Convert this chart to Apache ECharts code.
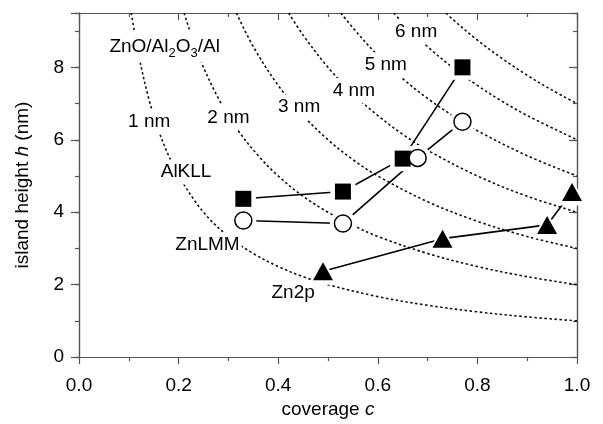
<!DOCTYPE html>
<html>
<head>
<meta charset="utf-8">
<script src="https://cdn.jsdelivr.net/npm/echarts@6/dist/echarts.min.js"></script>
<style>html,body{margin:0;padding:0;background:#fff}#c{width:603px;height:424px}</style>
</head>
<body>
<div id="c"></div>
<script>
// ---- data ----
const squaresC = [0.33, 0.53, 0.65, 0.77];
const squaresH = [4.37, 4.57, 5.48, 8.0];
const circlesC = [0.33, 0.53, 0.68, 0.77];
const circlesH = [3.77, 3.69, 5.5, 6.5];
const trianglesC = [0.49, 0.73, 0.94, 0.99];
const trianglesH = [2.37, 3.27, 3.65, 4.56];

// iso-thickness dotted curves (c, h) points
const curve1nm = [[0.105,9.5],[0.12,8.33],[0.14,7.14],[0.16,6.25],[0.18,5.56],[0.2,5.0],[0.25,4.0],[0.3,3.33],[0.35,2.86],[0.4,2.5],[0.45,2.22],[0.5,2.0],[0.6,1.67],[0.7,1.43],[0.8,1.25],[0.9,1.11],[1.0,1.0]];
const curve2nm = [[0.211,9.5],[0.24,8.33],[0.28,7.14],[0.32,6.25],[0.36,5.56],[0.4,5.0],[0.45,4.44],[0.5,4.0],[0.55,3.64],[0.6,3.33],[0.7,2.86],[0.8,2.5],[0.9,2.22],[1.0,2.0]];
const curve3nm = [[0.316,9.5],[0.35,8.57],[0.4,7.5],[0.45,6.67],[0.5,6.0],[0.55,5.45],[0.6,5.0],[0.7,4.29],[0.8,3.75],[0.9,3.33],[1.0,3.0]];
const curve4nm = [[0.421,9.5],[0.45,8.89],[0.5,8.0],[0.55,7.27],[0.6,6.67],[0.65,6.15],[0.7,5.71],[0.8,5.0],[0.9,4.44],[1.0,4.0]];
const curve5nm = [[0.526,9.5],[0.55,9.09],[0.6,8.33],[0.65,7.69],[0.7,7.14],[0.75,6.67],[0.8,6.25],[0.9,5.56],[1.0,5.0]];
const curve6nm = [[0.632,9.5],[0.65,9.23],[0.7,8.57],[0.75,8.0],[0.8,7.5],[0.85,7.06],[0.9,6.67],[1.0,6.0]];
const curve7nm = [[0.737,9.5],[0.75,9.33],[0.8,8.75],[0.85,8.24],[0.9,7.78],[0.95,7.37],[1.0,7.0]];
const curves = [curve1nm, curve2nm, curve3nm, curve4nm, curve5nm, curve6nm, curve7nm];

// annotation texts and their anchor points (c, h)
const annotTexts = ['ZnO/Al{sub|2}O{sub|3}/Al', '1 nm', '2 nm', '3 nm', '4 nm', '5 nm', '6 nm', 'AlKLL', 'ZnLMM', 'Zn2p'];
const annotAnchors = [[0.172,8.56],[0.141,6.49],[0.30,6.62],[0.442,6.9],[0.552,7.36],[0.616,8.07],[0.677,8.99],[0.215,5.11],[0.258,3.09],[0.43,1.77]];

const xMin = 0, xMax = 1.0, xMajor = 0.2;
const yMin = 0, yMax = 9.5, yMajor = 2, yMinor = 1;

// ---- chart ----
const FONT = "'Liberation Sans', Arial, sans-serif";
const TXT = '#000';
const AX = '#555';
const chart = echarts.init(document.getElementById('c'), null, {renderer: 'canvas'});

const zip = (a, b) => a.map((v, i) => [v, b[i]]);

function xAxisDef(pos, inside, withLabel) {
  return {
    type: 'value', position: pos, min: xMin, max: xMax, interval: xMajor,
    axisLine: {show: true, onZero: false, lineStyle: {color: AX, width: 1.2}},
    axisTick: {show: true, inside: inside, length: 7, lineStyle: {color: AX, width: 1.2}},
    minorTick: {show: true, splitNumber: 2, length: 4, lineStyle: {color: AX, width: 1.2}},
    splitLine: {show: false},
    axisLabel: withLabel ? {show: true, margin: 19, fontSize: 19, fontFamily: FONT, color: TXT,
      formatter: v => v.toFixed(1)} : {show: false},
    name: withLabel ? 'coverage {i|c}' : '',
    nameLocation: 'middle', nameGap: 42,
    nameTextStyle: {fontSize: 19, fontFamily: FONT, color: TXT,
      rich: {i: {fontStyle: 'italic', fontSize: 19, fontFamily: FONT, color: TXT}}}
  };
}
function yAxisDef(pos, inside, interval, len, withLabel) {
  return {
    type: 'value', position: pos, min: yMin, max: yMax, interval: interval, offset: 0,
    axisLine: {show: true, onZero: false, lineStyle: {color: AX, width: 1.2}},
    axisTick: {show: true, inside: inside, length: len, lineStyle: {color: AX, width: 1.2}},
    splitLine: {show: false},
    axisLabel: withLabel ? {show: true, margin: 15, fontSize: 19, fontFamily: FONT, color: TXT,
      formatter: v => (v % 2 === 0 ? String(v) : '')} : {show: false},
    name: withLabel ? 'island height {i|h} (nm)' : '',
    nameLocation: 'middle', nameGap: 47, nameRotate: 90,
    nameTextStyle: {fontSize: 19, fontFamily: FONT, color: TXT,
      rich: {i: {fontStyle: 'italic', fontSize: 19, fontFamily: FONT, color: TXT}}}
  };
}

const series = [];
curves.forEach((pts) => {
  series.push({
    type: 'line', xAxisIndex: 0, yAxisIndex: 0, data: pts, smooth: 0.35,
    symbol: 'none', silent: true, z: 1,
    lineStyle: {color: '#111', width: 1.6, type: [2.5, 2.5]}
  });
});

const groups = [
  {c: squaresC, h: squaresH, symbol: 'rect', size: 16, fill: '#000'},
  {c: circlesC, h: circlesH, symbol: 'circle', size: 17, fill: '#fff'},
  {c: trianglesC, h: trianglesH, symbol: 'triangle', size: [20, 18], fill: '#000'}
];
groups.forEach(g => {
  series.push({
    type: 'line', data: zip(g.c, g.h), symbol: 'none', z: 3,
    lineStyle: {color: '#000', width: 1.6}
  });
});
groups.forEach(g => {
  const hs = Array.isArray(g.size) ? [g.size[0] + 9, g.size[1] + 9] : g.size + 9;
  series.push({
    type: 'scatter', data: zip(g.c, g.h), symbol: g.symbol, symbolSize: hs, z: 4,
    itemStyle: {color: '#fff', opacity: 1}, silent: true
  });
});
groups.forEach(g => {
  series.push({
    type: 'scatter', data: zip(g.c, g.h), symbol: g.symbol, symbolSize: g.size, z: 5,
    itemStyle: {color: g.fill, borderColor: '#000', borderWidth: g.fill === '#fff' ? 1.5 : 0, opacity: 1}
  });
});

series.push({
  type: 'scatter', z: 2, symbolSize: 0, silent: true,
  itemStyle: {opacity: 1},
  data: annotTexts.map((t, i) => ({name: t, value: annotAnchors[i]})),
  label: {
    show: true, position: 'inside', formatter: '{b}',
    fontSize: 19, fontFamily: FONT, color: TXT, opacity: 1,
    backgroundColor: '#fff', padding: [3, 2],
    rich: {sub: {fontSize: 13, fontFamily: FONT, color: TXT, padding: [12, 0, 0, 0]}}
  },
  labelLayout: {hideOverlap: false}
});

chart.setOption({
  animation: false,
  backgroundColor: '#fff',
  grid: {left: 79, right: 26, top: 13, bottom: 62, containLabel: false},
  xAxis: [xAxisDef('bottom', false, true), xAxisDef('top', true, false)],
  yAxis: [
    yAxisDef('left', false, yMajor, 8, true),
    yAxisDef('left', false, yMinor, 4, false),
    yAxisDef('right', true, yMajor, 8, false),
    yAxisDef('right', true, yMinor, 4, false)
  ],
  series: series
});
</script>
</body>
</html>
